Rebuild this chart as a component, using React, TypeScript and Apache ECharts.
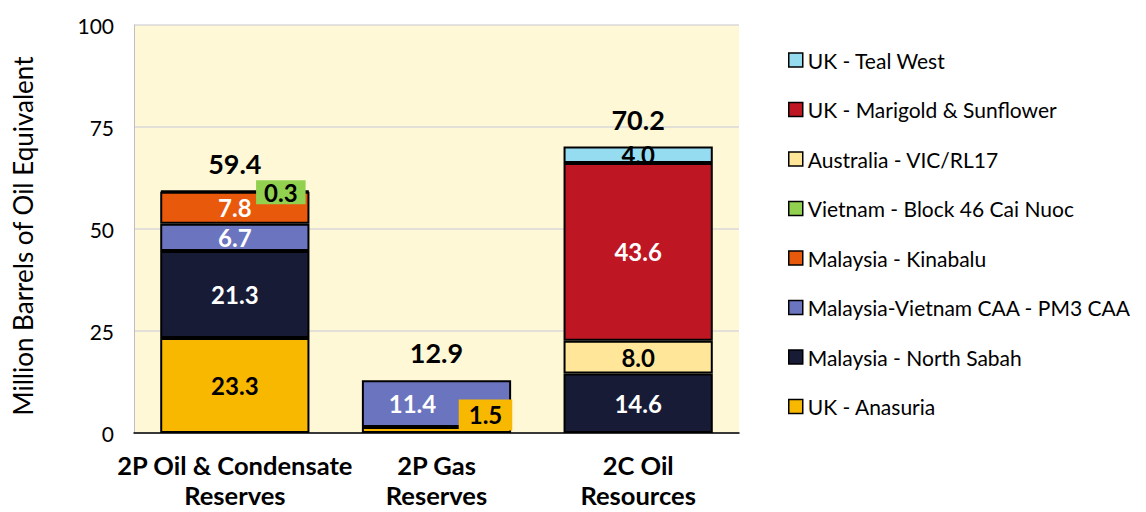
import React, { useEffect, useRef } from "react";
import * as echarts from "echarts";

const categories = ["2P Oil & Condensate\nReserves", "2P Gas\nReserves", "2C Oil\nResources"];
const yTicks = [0, 25, 50, 75, 100];

const anasuria = [23.3, 1.5, null];
const northSabah = [21.3, null, 14.6];
const pm3Caa = [6.7, 11.4, null];
const kinabalu = [7.8, null, null];
const block46 = [0.3, null, null];
const vicRl17 = [null, null, 8.0];
const marigold = [null, null, 43.6];
const tealWest = [null, null, 4.0];
const totals = [59.4, 12.9, 70.2];

const FONT = "Lato";

type SeriesDef = {
  name: string;
  data: (number | null)[];
  color: string;
  labelColor: string;
  special?: Record<number, any>;
};

const seriesDefs: SeriesDef[] = [
  {
    name: "UK - Anasuria",
    data: anasuria,
    color: "#F9B800",
    labelColor: "#000",
    special: {
      1: {
        color: "#000",
        backgroundColor: "#F9B800",
        padding: [4, 10, 3, 10],
        offset: [49, -15],
      },
    },
  },
  { name: "Malaysia - North Sabah", data: northSabah, color: "#171B36", labelColor: "#fff" },
  {
    name: "Malaysia-Vietnam CAA - PM3 CAA",
    data: pm3Caa,
    color: "#6B74BE",
    labelColor: "#fff",
    special: { 1: { offset: [-24, 0] } },
  },
  { name: "Malaysia - Kinabalu", data: kinabalu, color: "#E8590C", labelColor: "#fff" },
  {
    name: "Vietnam - Block 46 Cai Nuoc",
    data: block46,
    color: "#92D050",
    labelColor: "#000",
    special: {
      0: {
        color: "#000",
        backgroundColor: "#92D050",
        padding: [0, 8, 0, 8],
        offset: [46, 1],
      },
    },
  },
  { name: "Australia - VIC/RL17", data: vicRl17, color: "#FFE699", labelColor: "#000" },
  { name: "UK - Marigold & Sunflower", data: marigold, color: "#BE1622", labelColor: "#fff" },
  { name: "UK - Teal West", data: tealWest, color: "#95DCF0", labelColor: "#000" },
];

export default function App() {
  const ref = useRef<HTMLDivElement>(null);
  useEffect(() => {
    if (!ref.current) return;
    const chart = echarts.init(ref.current, undefined, { renderer: "svg" });
    const barSeries = seriesDefs.map((s) => ({
      name: s.name,
      type: "bar",
      stack: "total",
      barWidth: "74%",
      itemStyle: { color: s.color, borderColor: "#000", borderWidth: 2 },
      label: {
        show: true,
        position: "inside",
        color: s.labelColor,
        fontFamily: FONT,
        fontWeight: "bold",
        fontSize: 24,
        formatter: (p: any) => (p.value == null ? "" : Number(p.value).toFixed(1)),
      },
      data: s.data.map((v, i) => {
        if (v == null) return "-";
        if (s.special && s.special[i]) {
          return { value: v, label: s.special[i] };
        }
        return v;
      }),
    }));
    const option: any = {
      animation: false,
      textStyle: { fontFamily: FONT },
      grid: {
        left: 126,
        top: 17,
        width: 605,
        height: 408,
        show: true,
        backgroundColor: "#FFF8D6",
        borderWidth: 0,
        outerBoundsMode: "none",
        containLabel: false,
      },
      legend: {
        orient: "vertical",
        left: 775,
        top: 36,
        itemWidth: 14,
        itemHeight: 14,
        itemGap: 27.5,
        icon: "rect",
        itemStyle: { borderColor: "#000", borderWidth: 1.5 },
        textStyle: { fontFamily: FONT, fontSize: 21, lineHeight: 22, color: "#000" },
        data: [...seriesDefs].reverse().map((s) => s.name),
      },
      xAxis: {
        type: "category",
        data: categories,
        axisLine: { show: true, lineStyle: { color: "#000", width: 1.5 } },
        axisTick: { show: false },
        axisLabel: {
          interval: 0,
          fontFamily: FONT,
          fontWeight: "bold",
          fontSize: 25.5,
          color: "#000",
          lineHeight: 30,
          margin: 17,
        },
      },
      yAxis: {
        type: "value",
        min: yTicks[0],
        max: yTicks[yTicks.length - 1],
        interval: 25,
        name: "Million Barrels of Oil Equivalent",
        nameLocation: "middle",
        nameGap: 98,
        nameTextStyle: { fontFamily: FONT, fontSize: 26, color: "#000", padding: [0, 14, 0, 0] },
        axisLine: { show: true, lineStyle: { color: "#BFBFBF", width: 1 } },
        axisTick: { show: false },
        splitLine: { show: true, lineStyle: { color: "#D9D9D9", width: 1.5 } },
        axisLabel: { fontFamily: FONT, fontSize: 21, color: "#000", margin: 20 },
      },
      series: [
        ...barSeries,
        {
          name: "Total",
          type: "bar",
          barGap: "-100%",
          barWidth: "74%",
          itemStyle: { color: "rgba(0,0,0,0)", borderWidth: 0 },
          silent: true,
          data: totals,
          label: {
            show: true,
            position: "top",
            distance: 14,
            color: "#000",
            fontFamily: FONT,
            fontWeight: "bold",
            fontSize: 27,
            formatter: (p: any) => Number(p.value).toFixed(1),
          },
          z: 10,
        },
      ],
    };
    chart.setOption(option);
    return () => chart.dispose();
  }, []);
  return <div ref={ref} style={{ width: 1138, height: 504 }} />;
}
